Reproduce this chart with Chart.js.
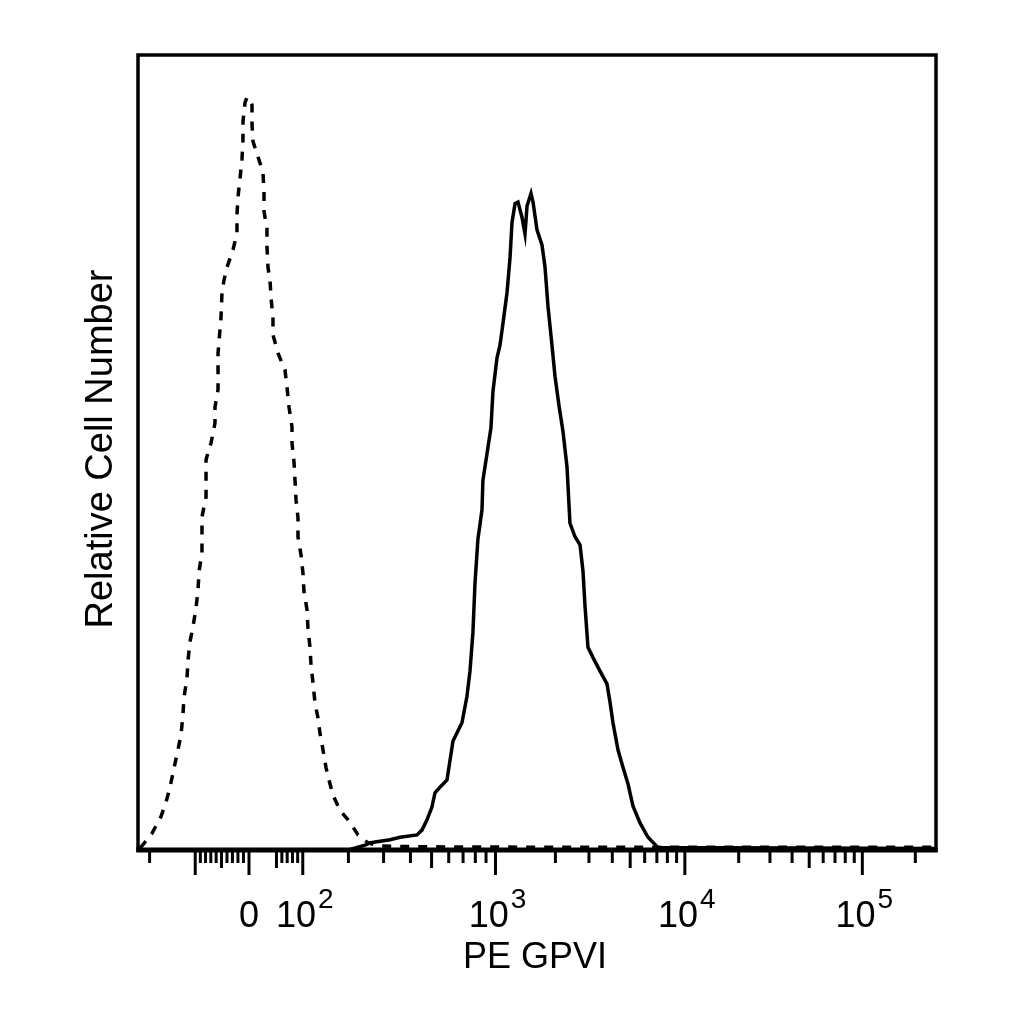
<!DOCTYPE html>
<html>
<head>
<meta charset="utf-8">
<title>PE GPVI histogram</title>
<script src="https://cdn.jsdelivr.net/npm/chart.js@4.4.1/dist/chart.umd.min.js"></script>
<style>
  html, body { margin: 0; padding: 0; background: #fff; }
  canvas { display: block; }
</style>
</head>
<body>
<canvas id="histChart" width="1024" height="1024"></canvas>
<script>
// Histogram bins on a 1024-channel display scale (logicle transformed PE axis)
// y = relative cell number, % of plot height
const controlX = [2.6, 9.0, 18.0, 29.5, 35.9, 41.1, 46.2, 51.3, 55.2, 57.7, 59.0, 62.9, 64.2, 66.7,
  70.6, 74.4, 77.0, 78.3, 82.1, 82.1, 87.3, 87.3, 93.7, 98.8, 98.8, 102.7, 102.7, 106.5, 107.8,
  110.4, 114.2, 121.9, 127.0, 127.0, 128.3, 130.9, 133.4, 134.7, 134.7, 137.3, 139.9, 143.7,
  146.3, 146.3, 147.6, 154.0, 160.4, 161.7, 161.7, 165.5, 165.5, 166.8, 169.4, 170.7, 173.2,
  173.2, 179.6, 188.6, 191.2, 193.8, 197.6, 197.6, 200.2, 201.5, 202.8, 205.3, 205.3, 209.2,
  211.7, 213.0, 216.9, 218.1, 220.7, 222.0, 224.6, 227.1, 231.0, 233.5, 237.4, 241.2, 245.1,
  250.2, 259.2, 272.0, 282.3, 295.1, 310.5, 361.9, 520, 700, 1024];
const controlY = [0.25, 1.0, 2.1, 4.2, 6.0, 7.9, 10.3, 12.6, 14.5, 17.0, 19.2, 21.6, 23.9, 26.2,
  28.1, 30.4, 32.7, 35.0, 37.4, 41.9, 44.4, 49.1, 51.2, 53.7, 55.7, 57.9, 62.5, 67.0, 70.1,
  71.7, 73.3, 75.5, 77.6, 79.9, 82.1, 84.5, 86.8, 89.3, 91.6, 94.0, 94.7, 94.3,
  93.7, 91.2, 89.1, 87.2, 85.2, 82.6, 80.3, 78.2, 75.9, 73.3, 71.7, 69.4, 67.0,
  64.8, 62.5, 60.4, 58.2, 55.7, 53.2, 51.2, 48.8, 46.5, 44.0, 41.8, 39.4, 37.1,
  34.8, 32.5, 30.2, 27.9, 25.5, 23.3, 21.0, 18.5, 16.6, 14.7, 12.6, 10.4, 8.8,
  6.9, 5.0, 3.5, 1.9, 0.9, 0.5, 0.4, 0.35, 0.35, 0.35];

const gpviX = [0, 270, 291.3, 297.7, 304.1, 323.4, 336.2, 358.0, 364.4, 370.8, 377.2, 381.1, 387.5,
  396.5, 404.2, 415.7, 422.1, 426.0, 429.8, 432.4, 436.2, 441.4, 442.6, 447.8, 452.9, 455.5,
  460.7, 464.5, 468.4, 473.5, 477.4, 479.9, 483.8, 487.6, 492.7, 496.6, 499.2, 504.3, 506.9,
  512.0, 518.4, 522.3, 526.1, 531.2, 535.1, 540.2, 545.4, 550.5, 554.3, 560.8, 567.2, 571.0,
  573.6, 577.4, 583.9, 592.9, 601.8, 605.7, 609.5, 615.9, 622.3, 628.8, 635.2, 644.2, 654.4,
  667.3, 1024];
const gpviY = [0, 0, 0.6, 0.9, 1.0, 1.3, 1.6, 1.9, 2.5, 3.8, 5.4, 7.2, 7.9,
  8.8, 13.7, 16.0, 19.3, 22.5, 27.4, 33.5, 39.1, 42.8, 46.5, 49.8, 53.1, 57.7,
  61.9, 63.5, 66.3, 70.1, 74.5, 78.9, 81.3, 81.5, 79.6, 77.5, 81.0, 82.6, 81.5,
  78.0, 76.1, 73.3, 68.4, 63.5, 59.6, 55.9, 52.6, 48.2, 41.1, 39.4, 38.4, 35.1,
  30.7, 25.5, 24.2, 22.5, 20.9, 18.6, 16.0, 12.6, 10.4, 8.3, 5.5, 3.4, 1.6,
  0.3, 0.2];

// Axis decoration: labelled decades and minor tick values (fluorescence units)
const labelValues = [0, 100, 1000, 10000, 100000];
const labelBase = ['0', '10', '10', '10', '10'];
const labelExp = ['', '2', '3', '4', '5'];
const nearZeroTicks = [-200, -100, -90, -80, -70, -60, -50, -40, -30, -20, -10, 0, 50, 60, 70, 80, 90];
const longTicks = [-100, 0, 100, 1000, 10000, 100000];
const axisRange = [-230, 262144];

// logicle transform (Parks et al.)
const T = 262144, W = 0.79, M = 4.7;
const w = W * Math.LN10;
let pLo = 1.0001, pHi = 50;
for (let i = 0; i < 80; i++) {
  const mid = (pLo + pHi) / 2;
  if (2 * mid * Math.log(mid) / (mid + 1) < w) pLo = mid; else pHi = mid;
}
const p = (pLo + pHi) / 2;
const K = T * Math.exp(-(M * Math.LN10 - w));

function biex(u) {
  const a = Math.abs(u);
  const s = K * (Math.exp(a) - p * p * Math.exp(-a / p) + p * p - 1);
  return u < 0 ? -s : s;
}
function logicle(v) {
  let lo = -20, hi = 20;
  for (let i = 0; i < 90; i++) {
    const mid = (lo + hi) / 2;
    if (biex(mid) < v) lo = mid; else hi = mid;
  }
  return (lo + hi) / 2;
}
const l0 = logicle(axisRange[0]), l1 = logicle(axisRange[1]);
function channelOf(v) {
  return 1024 * (logicle(v) - l0) / (l1 - l0);
}

const tickValues = nearZeroTicks.slice();
for (let k = 2; k <= 4; k++) {
  for (let m = 1; m <= 9; m++) tickValues.push(m * Math.pow(10, k));
}
tickValues.push(100000, 200000);

const FONT = '"Liberation Sans", Arial, Helvetica, sans-serif';

const facsAxes = {
  id: 'facsAxes',
  afterDraw(chart) {
    const { ctx, chartArea: a, scales: { x } } = chart;
    ctx.save();
    ctx.strokeStyle = '#000';
    ctx.fillStyle = '#000';

    // frame
    ctx.lineWidth = 3.5;
    ctx.strokeRect(a.left, a.top, a.right - a.left, a.bottom - a.top);
    ctx.lineWidth = 5;
    ctx.beginPath();
    ctx.moveTo(a.left - 1.7, a.bottom);
    ctx.lineTo(a.right + 1.7, a.bottom);
    ctx.stroke();

    // tick marks
    ctx.lineWidth = 3;
    const y0 = a.bottom + 1;
    tickValues.forEach(v => {
      const px = x.getPixelForValue(channelOf(v));
      if (px < a.left || px > a.right) return;
      const mant = Math.abs(v) / Math.pow(10, Math.floor(Math.log10(Math.abs(v) || 1)));
      let len = 12;
      if (longTicks.includes(v)) len = 24;
      else if (Math.round(mant) === 5) len = 17;
      ctx.beginPath();
      ctx.moveTo(px, y0);
      ctx.lineTo(px, y0 + len);
      ctx.stroke();
    });

    // decade labels
    ctx.textBaseline = 'alphabetic';
    ctx.textAlign = 'left';
    labelValues.forEach((v, i) => {
      const px = x.getPixelForValue(channelOf(v));
      ctx.font = '36px ' + FONT;
      const wb = ctx.measureText(labelBase[i]).width;
      ctx.font = '28px ' + FONT;
      const we = labelExp[i] ? ctx.measureText(labelExp[i]).width + 2 : 0;
      const x0 = px - (wb + we) / 2 + (labelExp[i] ? 2 : 0);
      ctx.font = '36px ' + FONT;
      ctx.fillText(labelBase[i], x0, 927);
      if (labelExp[i]) {
        ctx.font = '28px ' + FONT;
        ctx.fillText(labelExp[i], x0 + wb + 2, 908);
      }
    });

    // axis titles
    ctx.font = '36px ' + FONT;
    ctx.textAlign = 'center';
    ctx.fillText('PE GPVI', (a.left + a.right) / 2 - 2, 968);

    ctx.translate(112, 449);
    ctx.rotate(-Math.PI / 2);
    ctx.font = '38px ' + FONT;
    ctx.fillText('Relative Cell Number', 0, 0);
    ctx.restore();
  }
};

const histCtx = document.getElementById('histChart').getContext('2d');
new Chart(histCtx, {
  type: 'line',
  data: {
    datasets: [
      {
        label: 'Isotype control',
        data: controlX.map((v, i) => ({ x: v, y: controlY[i] })),
        borderColor: '#000',
        borderWidth: 3.5,
        borderDash: [9, 9],
        pointRadius: 0,
        tension: 0,
        fill: false
      },
      {
        label: 'GPVI',
        data: gpviX.map((v, i) => ({ x: v, y: gpviY[i] })),
        borderColor: '#000',
        borderWidth: 3.5,
        pointRadius: 0,
        tension: 0,
        fill: false
      }
    ]
  },
  options: {
    responsive: false,
    animation: false,
    devicePixelRatio: 1,
    layout: { padding: { left: 138, top: 55, right: 88, bottom: 174 } },
    plugins: {
      legend: { display: false },
      tooltip: { enabled: false }
    },
    scales: {
      x: { type: 'linear', min: 0, max: 1024, display: false },
      y: { type: 'linear', min: 0, max: 100, display: false }
    }
  },
  plugins: [facsAxes]
});
</script>
</body>
</html>
